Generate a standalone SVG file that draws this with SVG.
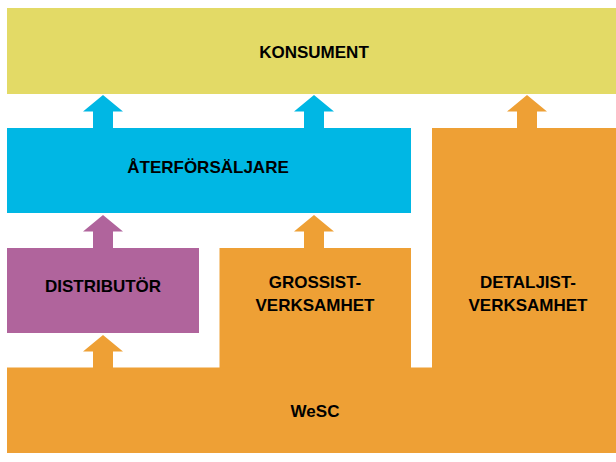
<svg xmlns="http://www.w3.org/2000/svg" width="616" height="462" viewBox="0 0 616 462">
<style>
.lbl{font-family:"Liberation Sans",Arial,sans-serif;font-weight:bold;font-size:17px;fill:#000;text-anchor:middle}
.yel{fill:#E3DA66}.blu{fill:#00B7E4}.org{fill:#EEA035}.pur{fill:#B0649C}
</style>
<defs>
<path id="arr" d="M0,0 L20,16.5 L10,16.5 L10,33.5 L-10,33.5 L-10,16.5 L-20,16.5 Z"/>
</defs>
<rect width="616" height="462" fill="#fff"/>
<g id="connectors">
<use href="#arr" class="blu" x="103" y="95"/>
<use href="#arr" class="blu" x="314" y="95"/>
<use href="#arr" class="org" x="527" y="95"/>
<use href="#arr" class="pur" x="103" y="215"/>
<use href="#arr" class="org" x="314" y="215"/>
<use href="#arr" class="org" x="103" y="335"/>
</g>
<g id="konsument">
<rect class="yel" x="7" y="8" width="609" height="86"/>
<text class="lbl" x="314" y="58">KONSUMENT</text>
</g>
<g id="aterforsaljare">
<rect class="blu" x="7" y="128" width="404" height="85"/>
<text class="lbl" x="208" y="173">ÅTERFÖRSÄLJARE</text>
</g>
<g id="detaljist">
<rect class="org" x="432" y="128" width="184" height="241"/>
<text class="lbl" x="528" y="288">DETALJIST-</text>
<text class="lbl" x="528" y="311">VERKSAMHET</text>
</g>
<g id="distributor">
<rect class="pur" x="7" y="248" width="192" height="85"/>
<text class="lbl" x="103" y="292">DISTRIBUTÖR</text>
</g>
<g id="grossist">
<rect class="org" x="219.5" y="248" width="191.5" height="121"/>
<text class="lbl" x="315" y="288">GROSSIST-</text>
<text class="lbl" x="315" y="311">VERKSAMHET</text>
</g>
<g id="wesc">
<rect class="org" x="7" y="367.5" width="609" height="85.5"/>
<text class="lbl" x="315" y="417">WeSC</text>
</g>
</svg>
